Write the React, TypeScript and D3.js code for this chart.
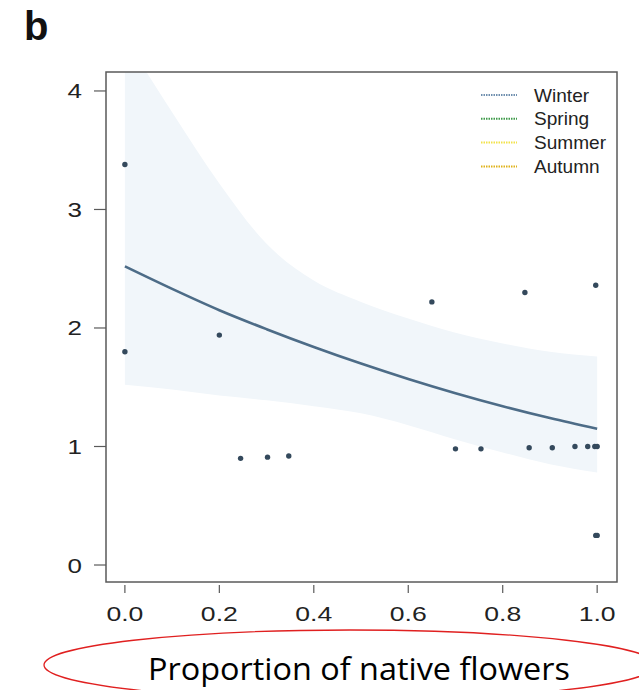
import React from "react";
import * as d3 from "d3";

const ptX = [0, 0, 0.2, 0.245, 0.302, 0.347, 0.65, 0.7, 0.754, 0.847, 0.856, 0.905, 0.953, 0.98, 0.995, 1.0, 0.997, 0.997, 1.0];
const ptY = [3.38, 1.8, 1.94, 0.9, 0.91, 0.92, 2.22, 0.98, 0.98, 2.3, 0.99, 0.99, 1.0, 1.0, 1.0, 1.0, 2.36, 0.25, 0.25];

const gridX = [0, 0.1, 0.2, 0.3, 0.4, 0.5, 0.6, 0.7, 0.8, 0.9, 1.0];
const fitY = [2.52, 2.33, 2.15, 1.99, 1.84, 1.7, 1.57, 1.45, 1.34, 1.24, 1.15];
const upperY = [4.45, 3.82, 3.22, 2.71, 2.4, 2.22, 2.08, 1.96, 1.87, 1.8, 1.76];
const lowerY = [1.52, 1.48, 1.43, 1.39, 1.34, 1.28, 1.18, 1.06, 0.95, 0.85, 0.78];

const xTicks = [0, 0.2, 0.4, 0.6, 0.8, 1.0];
const yTicks = [0, 1, 2, 3, 4];
const seasons = ["Winter", "Spring", "Summer", "Autumn"];
const seasonColors = ["#6f8fae", "#3f9a4a", "#f2e24a", "#e0b21a"];

export default function App() {
  const W = 639, H = 690;
  const L = 106, R = 617, T = 72, B = 582;
  const x = d3.scaleLinear().domain([-0.04, 1.042]).range([L, R]);
  const y = d3.scaleLinear().domain([-0.1434, 4.16]).range([B, T]);

  const band = d3
    .area<number>()
    .x((_, i) => x(gridX[i]))
    .y0((_, i) => y(lowerY[i]))
    .y1((_, i) => y(upperY[i]))
    .curve(d3.curveMonotoneX)(gridX);
  const fit = d3
    .line<number>()
    .x((_, i) => x(gridX[i]))
    .y((_, i) => y(fitY[i]))
    .curve(d3.curveMonotoneX)(gridX);

  const font = "'Liberation Sans', Arial, Helvetica, sans-serif";

  return (
    <svg width={W} height={H} style={{ position: "absolute", left: 0, top: 0, background: "#fff" }}>
      <defs>
        <clipPath id="plotclip">
          <rect x={L} y={T} width={R - L} height={B - T} />
        </clipPath>
      </defs>
      <text x={24} y={40} fontFamily={font} fontWeight="bold" fontSize={40} fill="#111">b</text>

      <g clipPath="url(#plotclip)">
        <path d={band || ""} fill="#f1f6fa" />
        <path d={fit || ""} fill="none" stroke="#4d6c87" strokeWidth={2.6} />
        {ptX.map((v, i) => (
          <circle key={i} cx={x(v)} cy={y(ptY[i])} r={2.7} fill="#34495c" />
        ))}
      </g>

      <rect x={L} y={T} width={R - L} height={B - T} fill="none" stroke="#5a5a5a" strokeWidth={1.5} />

      {yTicks.map((t) => (
        <g key={t}>
          <line x1={94} x2={L} y1={y(t)} y2={y(t)} stroke="#5a5a5a" strokeWidth={1.2} />
          <text
            transform={`translate(82,${y(t) + 7.5}) scale(1.3,1)`}
            textAnchor="end"
            fontFamily={font}
            fontSize={20}
            fill="#222"
          >
            {t}
          </text>
        </g>
      ))}

      {xTicks.map((t) => (
        <g key={t}>
          <line x1={x(t)} x2={x(t)} y1={585} y2={593} stroke="#5a5a5a" strokeWidth={1.2} />
          <text
            transform={`translate(${x(t)},621) scale(1.33,1)`}
            textAnchor="middle"
            fontFamily={font}
            fontSize={20}
            fill="#222"
          >
            {t.toFixed(1)}
          </text>
        </g>
      ))}

      {seasons.map((s, i) => {
        const ly = 95 + i * 23.8;
        return (
          <g key={s}>
            <line x1={481} x2={517} y1={ly} y2={ly} stroke={seasonColors[i]} strokeWidth={2} strokeDasharray="1.5 1" />
            <text
              transform={`translate(534,${ly + 6.5}) scale(1.06,1)`}
              fontFamily={font}
              fontSize={18}
              fill="#222"
            >
              {s}
            </text>
          </g>
        );
      })}

      <ellipse cx={350} cy={665} rx={306} ry={35} fill="none" stroke="#e02020" strokeWidth={1.3} />
      <text
        x={148}
        y={680}
        textLength={422}
        lengthAdjust="spacingAndGlyphs"
        fontFamily="'Open Sans', 'Noto Sans', sans-serif"
        fontSize={31}
        fill="#000"
      >
        Proportion of native flowers
      </text>
    </svg>
  );
}
